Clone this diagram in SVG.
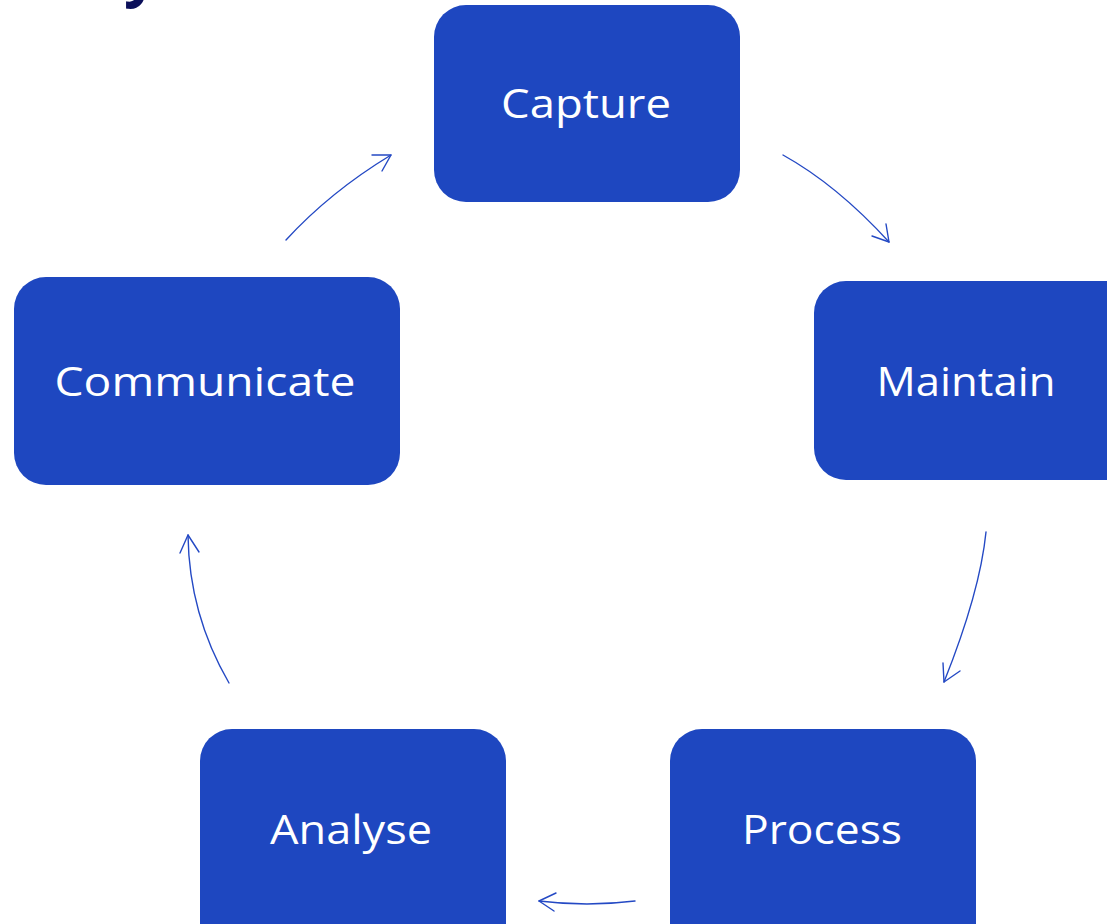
<svg xmlns="http://www.w3.org/2000/svg" width="1107" height="924" viewBox="0 0 1107 924">
<style>
.box{fill:#1e47c0;}
.lbl{fill:#ffffff;font-family:"Open Sans","Noto Sans",sans-serif;font-size:40px;text-anchor:middle;}
.c{fill:none;stroke:#2449c4;stroke-width:1.4;stroke-linecap:round;stroke-linejoin:round;}
.title{fill:#0b0f5a;font-family:"Open Sans","Noto Sans",sans-serif;font-weight:700;font-size:60px;}
</style>
<rect width="1107" height="924" fill="#ffffff"/>
<text class="title" x="124" y="-6">y</text>
<g id="capture"><rect class="box" x="434" y="5" width="306" height="197" rx="32"/><text class="lbl" x="586" y="118" textLength="170" lengthAdjust="spacingAndGlyphs">Capture</text></g>
<g id="maintain"><rect class="box" x="814" y="281" width="330" height="199" rx="32"/><text class="lbl" x="966" y="396" textLength="179" lengthAdjust="spacingAndGlyphs">Maintain</text></g>
<g id="communicate"><rect class="box" x="14" y="277" width="386" height="208" rx="32"/><text class="lbl" x="205" y="396" textLength="301" lengthAdjust="spacingAndGlyphs">Communicate</text></g>
<g id="analyse"><rect class="box" x="200" y="729" width="306" height="230" rx="32"/><text class="lbl" x="351" y="844" textLength="162" lengthAdjust="spacingAndGlyphs">Analyse</text></g>
<g id="process"><rect class="box" x="670" y="729" width="306" height="230" rx="32"/><text class="lbl" x="822" y="844" textLength="160" lengthAdjust="spacingAndGlyphs">Process</text></g>
<g id="connectors">
<path class="c" d="M286,240 Q330,192 391,155"/>
<path class="c" d="M372,155 L391,155 L382,171"/>
<path class="c" d="M783,155 Q837,185 889,242"/>
<path class="c" d="M886,224 L889,242 L872,236"/>
<path class="c" d="M986,532 Q980,592 944,682"/>
<path class="c" d="M943,663 L944,682 L960,671"/>
<path class="c" d="M635,901 Q587,907 539,901"/>
<path class="c" d="M556,893 L539,901 L554,911"/>
<path class="c" d="M229,683 Q189,614 188,535"/>
<path class="c" d="M180,553 L188,535 L199,552"/>
</g>
</svg>
